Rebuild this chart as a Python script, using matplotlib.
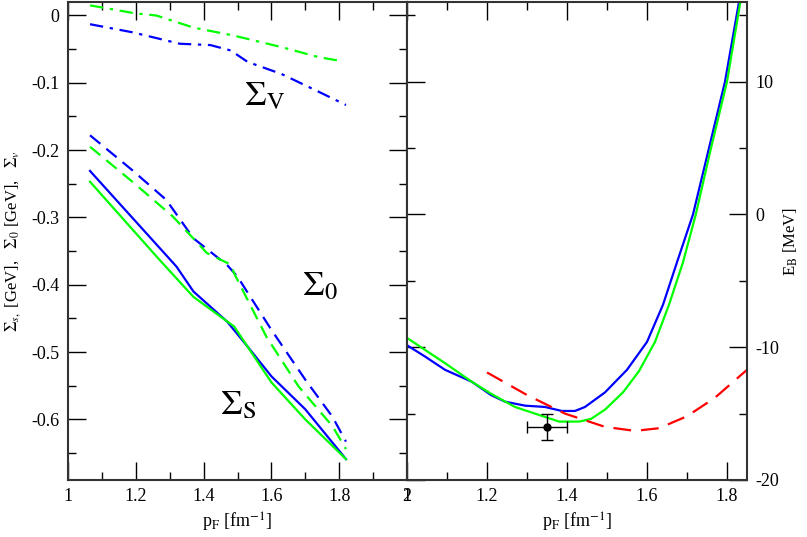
import matplotlib.pyplot as plt
from matplotlib.ticker import MultipleLocator

plt.rcParams['font.family'] = ['Liberation Serif', 'DejaVu Serif']
plt.rcParams['mathtext.fontset'] = 'stix'
plt.rcParams['axes.unicode_minus'] = False

# Левая панель: собственные энергии (GeV)
sv_green_x = [1.065, 1.2, 1.26, 1.37, 1.49, 1.63, 1.74, 1.81]
sv_green_y = [0.015, 0.003, 0.0, -0.018, -0.030, -0.047, -0.062, -0.068]
sv_blue_x = [1.065, 1.19, 1.33, 1.42, 1.48, 1.53, 1.63, 1.73, 1.82]
sv_blue_y = [-0.013, -0.025, -0.042, -0.044, -0.052, -0.069, -0.087, -0.111, -0.133]

s0_blue_x = [1.065, 1.19, 1.29, 1.37, 1.47, 1.50, 1.60, 1.70, 1.78, 1.82]
s0_blue_y = [-0.178, -0.230, -0.274, -0.331, -0.371, -0.388, -0.467, -0.541, -0.596, -0.633]
s0_green_x = [1.065, 1.19, 1.31, 1.41, 1.48, 1.49, 1.585, 1.68, 1.78, 1.82]
s0_green_y = [-0.195, -0.247, -0.299, -0.353, -0.370, -0.383, -0.477, -0.551, -0.610, -0.644]

ss_blue_x = [1.065, 1.32, 1.37, 1.43, 1.47, 1.53, 1.60, 1.70, 1.82]
ss_blue_y = [-0.231, -0.373, -0.410, -0.437, -0.455, -0.492, -0.536, -0.585, -0.659]
ss_green_x = [1.065, 1.27, 1.37, 1.49, 1.60, 1.70, 1.82]
ss_green_y = [-0.247, -0.363, -0.418, -0.462, -0.545, -0.600, -0.659]

# Правая панель: энергия связи (MeV)
eb_blue_x = [1.0, 1.045, 1.095, 1.162, 1.21, 1.245, 1.295, 1.345, 1.387, 1.42, 1.445,
             1.495, 1.55, 1.60, 1.64, 1.675, 1.715, 1.755, 1.795, 1.83]
eb_blue_y = [-9.85, -10.7, -11.7, -12.6, -13.6, -14.1, -14.4, -14.5, -14.8, -14.8, -14.5,
             -13.4, -11.7, -9.6, -6.8, -3.6, 0.0, 5.0, 10.0, 16.0]
eb_green_x = [1.0, 1.045, 1.095, 1.162, 1.21, 1.27, 1.33, 1.38, 1.43, 1.46, 1.495,
              1.54, 1.58, 1.62, 1.655, 1.69, 1.722, 1.76, 1.80, 1.835]
eb_green_y = [-9.3, -10.2, -11.2, -12.6, -13.5, -14.5, -15.1, -15.6, -15.6, -15.4, -14.7,
              -13.4, -11.8, -9.6, -6.8, -3.6, 0.0, 5.0, 10.0, 16.3]
eb_red_x = [1.2, 1.3, 1.395, 1.495, 1.57, 1.63, 1.7, 1.77, 1.85]
eb_red_y = [-11.9, -13.6, -15.0, -16.0, -16.3, -16.1, -15.2, -13.8, -11.7]

exp_x, exp_y = 1.35, -16.0
exp_xerr, exp_yerr = 0.05, 1.0

blue = '#0000ff'
green = '#00ff00'
red = '#ff0000'
lw = 1.6

fig = plt.figure(figsize=(8.07, 5.37), dpi=100)
W, H = 807, 537
ax1 = fig.add_axes([68 / W, 57 / H, 339 / W, 478 / H])
ax2 = fig.add_axes([407 / W, 57 / H, 340 / W, 478 / H])

dashdot = (0, (6, 3, 1.5, 3))
dashed = (0, (6, 3.5))

ax1.plot(sv_green_x, sv_green_y, color=green, lw=lw, ls=dashdot)
ax1.plot(sv_blue_x, sv_blue_y, color=blue, lw=lw, ls=dashdot)
ax1.plot(s0_blue_x, s0_blue_y, color=blue, lw=lw, ls=dashed)
ax1.plot(s0_green_x, s0_green_y, color=green, lw=lw, ls=dashed)
ax1.plot(ss_blue_x, ss_blue_y, color=blue, lw=lw)
ax1.plot(ss_green_x, ss_green_y, color=green, lw=lw)

ax1.set_xlim(1, 2)
ax1.set_ylim(-0.69, 0.02)
ax1.xaxis.set_minor_locator(MultipleLocator(0.1))
ax1.yaxis.set_minor_locator(MultipleLocator(0.05))
ax1.set_xticks([1, 1.2, 1.4, 1.6, 1.8, 2])
ax1.set_xticklabels(['1', '1.2', '1.4', '1.6', '1.8', '2'])
ax1.set_yticks([0, -0.1, -0.2, -0.3, -0.4, -0.5, -0.6])
ax1.set_yticklabels(['0', '-0.1', '-0.2', '-0.3', '-0.4', '-0.5', '-0.6'])

ax1.text(1.52, -0.133, r'$\Sigma_{\mathrm{V}}$', fontsize=25)
ax1.text(1.69, -0.415, r'$\Sigma_{0}$', fontsize=25)
ax1.text(1.447, -0.593, r'$\Sigma_{\mathrm{S}}$', fontsize=25)

ax1.set_xlabel(r'p$_\mathrm{F}$ [fm$^{-1}$]', fontsize=13, labelpad=4)
ax1.set_ylabel(r'$\Sigma_{s,}$ [GeV],   $\Sigma_0$ [GeV],   $\Sigma_v$', fontsize=12, labelpad=6)

ax2.plot(eb_blue_x, eb_blue_y, color=blue, lw=lw, solid_joinstyle='round')
ax2.plot(eb_green_x, eb_green_y, color=green, lw=lw, solid_joinstyle='round')
ax2.plot(eb_red_x, eb_red_y, color=red, lw=lw, ls=(0, (8, 4.5)))
ax2.errorbar(exp_x, exp_y, xerr=exp_xerr, yerr=exp_yerr, fmt='o', color='black',
             ms=5, elinewidth=1, capsize=4)

ax2.set_xlim(1, 1.85)
ax2.set_ylim(-20, 16)
ax2.set_xticks([1, 1.2, 1.4, 1.6, 1.8])
ax2.set_xticklabels(['1', '1.2', '1.4', '1.6', '1.8'])
ax2.xaxis.set_minor_locator(MultipleLocator(0.1))
ax2.yaxis.set_minor_locator(MultipleLocator(5))
ax2.set_yticks([-20, -10, 0, 10])
ax2.set_yticklabels(['-20', '-10', '0', '10'])
ax2.yaxis.tick_right()
ax2.yaxis.set_label_position('right')
ax2.set_xlabel(r'p$_\mathrm{F}$ [fm$^{-1}$]', fontsize=13, labelpad=4)
ax2.set_ylabel(r'E$_\mathrm{B}$ [MeV]', fontsize=12, labelpad=2)

for ax in (ax1, ax2):
    ax.tick_params(which='both', direction='in', top=True, bottom=True, left=True, right=True,
                   labelsize=13, width=1, pad=6)
    ax.tick_params(which='major', length=13)
    ax.tick_params(which='minor', length=6)
    for sp in ax.spines.values():
        sp.set_linewidth(1.5)
        sp.set_color('#333333')
ax2.tick_params(labelleft=False, labelright=True)

fig.savefig('out.png', dpi=100)
